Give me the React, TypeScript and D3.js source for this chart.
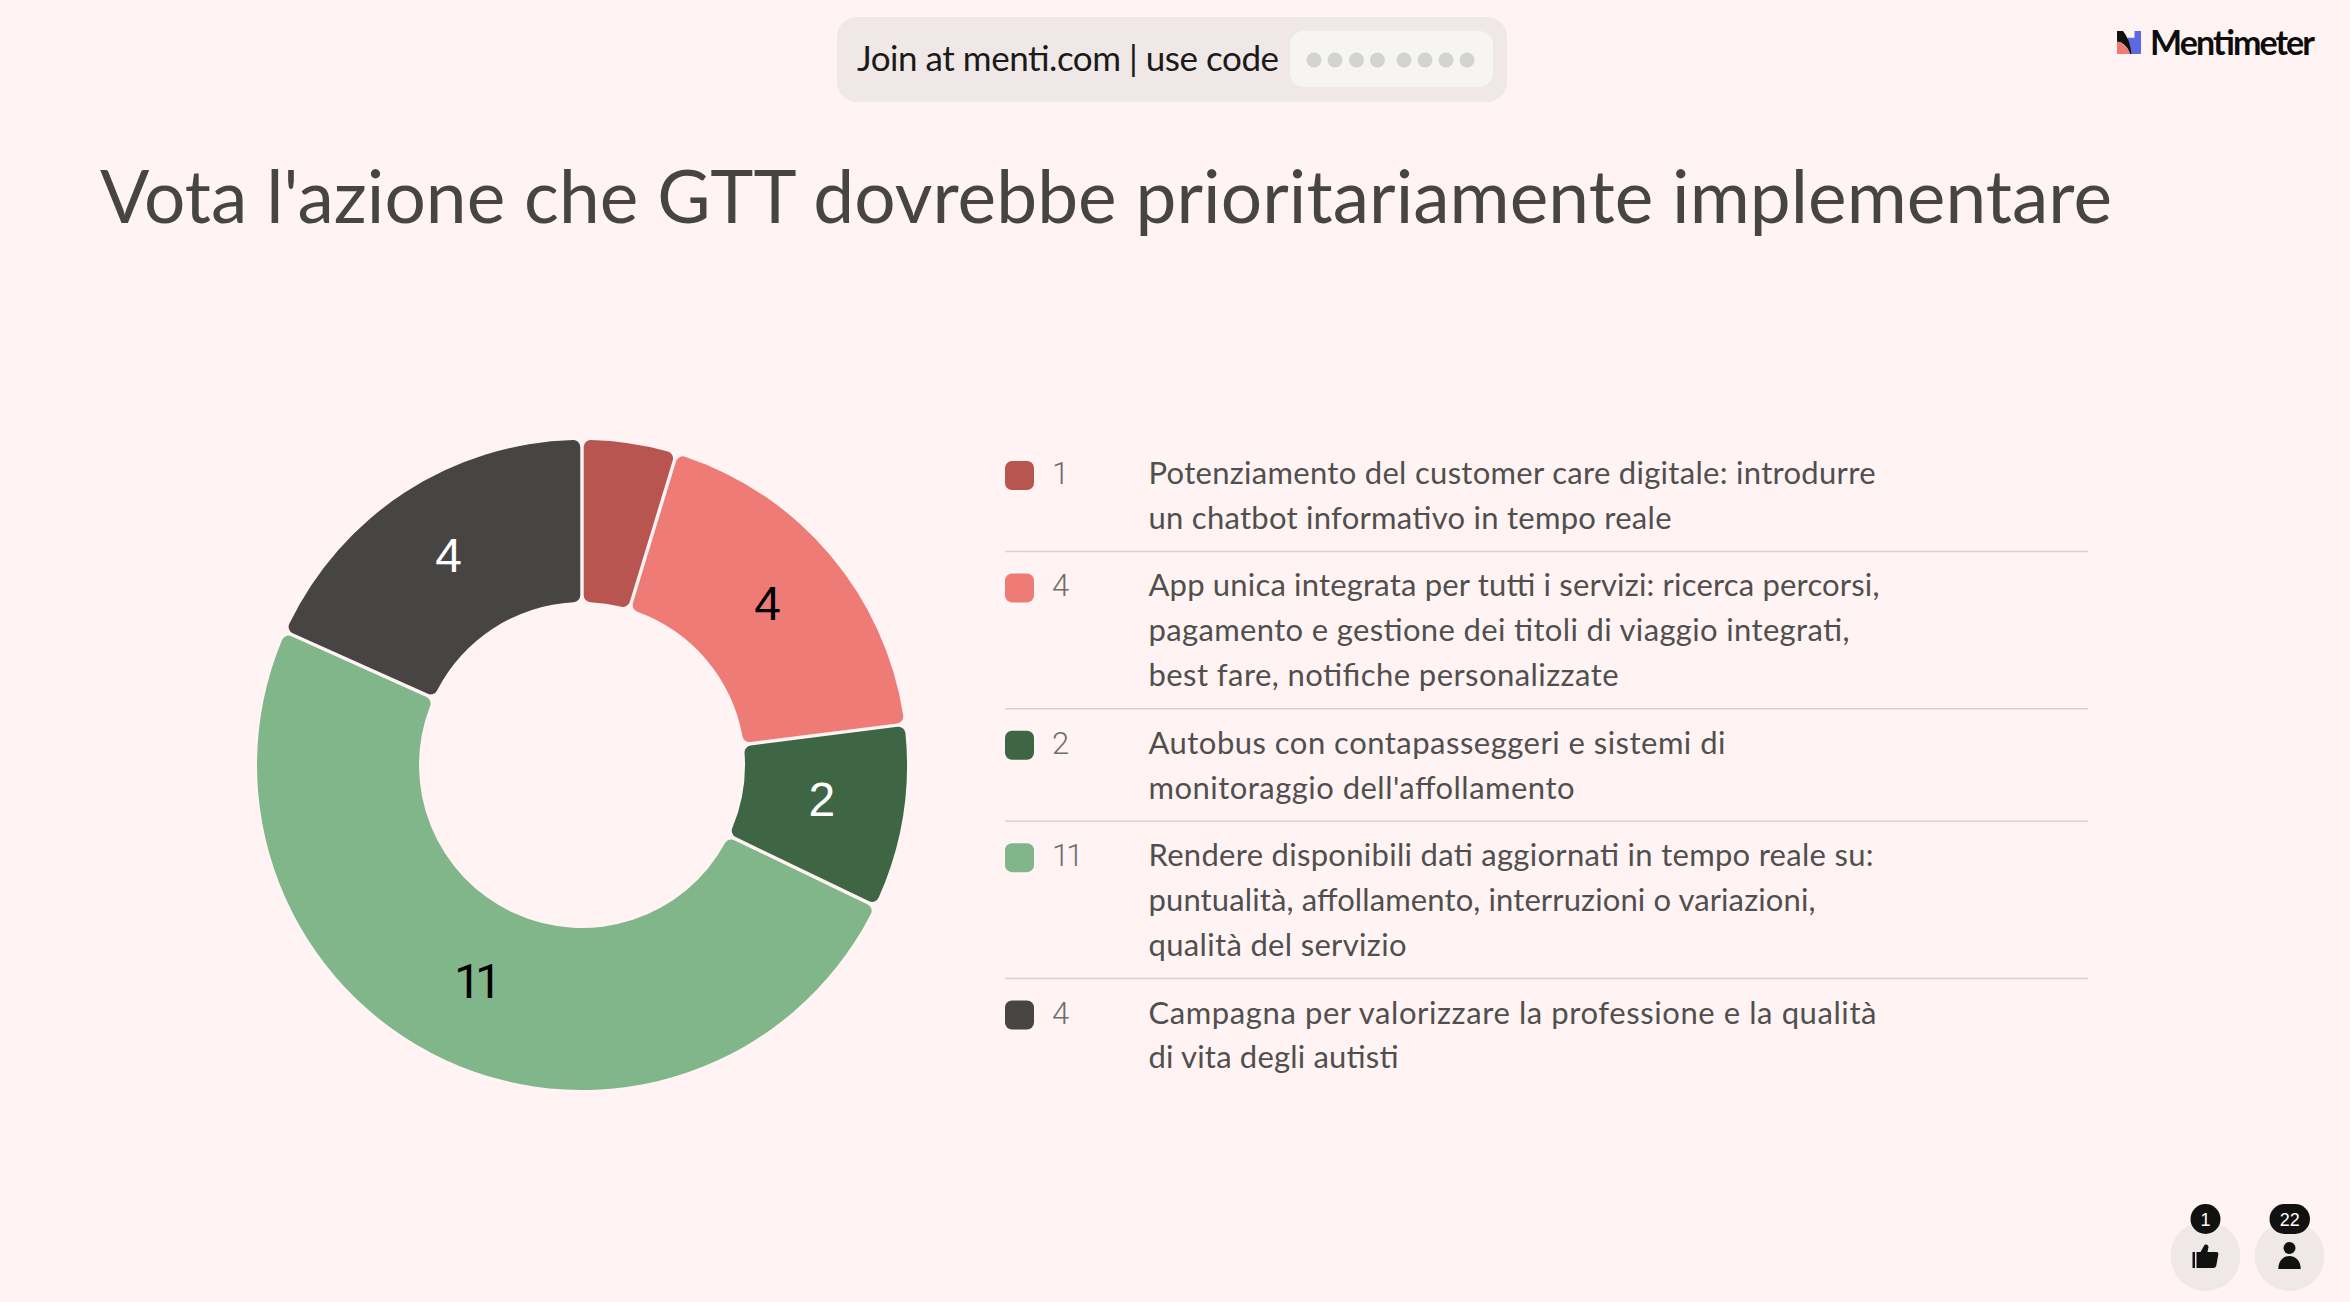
import React from "react";
import * as d3 from "d3";

const W = 2350, H = 1302;
const titleText = "Vota l'azione che GTT dovrebbe prioritariamente implementare";
const votes = [1, 4, 2, 11, 4];
// Slice sweeps in degrees (they differ slightly from the pure vote share).
const sliceSweeps = [16.9, 65.9, 32.9, 178.5, 65.8];
const colors = ["#b95551", "#ee7b76", "#3f6644", "#80b689", "#474543"];
const labelColors = ["#000000", "#000000", "#ffffff", "#000000", "#ffffff"];
const optionLines = [
  ["Potenziamento del customer care digitale: introdurre", "un chatbot informativo in tempo reale"],
  ["App unica integrata per tutti i servizi: ricerca percorsi,", "pagamento e gestione dei titoli di viaggio integrati,", "best fare, notifiche personalizzate"],
  ["Autobus con contapasseggeri e sistemi di", "monitoraggio dell'affollamento"],
  ["Rendere disponibili dati aggiornati in tempo reale su:", "puntualità, affollamento, interruzioni o variazioni,", "qualità del servizio"],
  ["Campagna per valorizzare la professione e la qualità", "di vita degli autisti"],
];
const lineWidths = [[727, 523], [731, 701, 470], [577, 426], [725, 667, 258], [728, 250]];
const likes = "1";
const participants = "22";

const FONT = "Lato, 'Noto Sans', sans-serif";
const LABEL_FONT = "'Liberation Sans', Arial, sans-serif";
const LH = 44.95;
const ROW_PAD = 22.5;
const TOP = 484;

export default function App() {
  const cx = 582, cy = 765, R = 325, r = 163;
  const pie = d3.pie<number>().sort(null).startAngle(0).endAngle(2 * Math.PI)(sliceSweeps);
  const arc = d3.arc<d3.PieArcDatum<number>>()
    .innerRadius(r).outerRadius(R).cornerRadius(7).padAngle(0.0105).padRadius(R);
  let y = TOP;
  const rows = optionLines.map((lines, i) => {
    const row = { y, lines, i, divider: y + (lines.length - 1) * LH + 22.5 };
    y += lines.length * LH + ROW_PAD;
    return row;
  });
  const dotsX = [1314, 1335, 1356.5, 1377.5, 1404, 1425, 1446, 1467];
  return (
    <svg width={W} height={H} viewBox={`0 0 ${W} ${H}`}
      style={{ position: "fixed", left: 0, top: 0, display: "block" }}>
      <rect width={W} height={H} fill="#fff4f3" />
      <rect x={837} y={17} width={670} height={85} rx={20} fill="#f0e8e6" />
      <text x={857} y={71} fontFamily={FONT} fontSize={35} fill="#1b1a1a" textLength={422}>Join at menti.com | use code</text>
      <rect x={1290} y={31} width={203} height={56} rx={14} fill="#f6f5f4" />
      {dotsX.map((x) => <circle key={x} cx={x} cy={60} r={7.5} fill="#d3d3d1" />)}

      <path d="M2134.5 31H2141V54H2131C2130 49 2128 45 2124 41.7H2127.8V37.7H2134.5Z" fill="#5b6ae0" />
      <path d="M2117 31H2123C2128 37 2131 46 2131.3 54H2130C2128 47 2123 42 2117 41.7Z" fill="#111" />
      <path d="M2117 41.7C2123 42 2128 47 2130 54H2117Z" fill="#ee7b76" />
      <text x={2150} y={54.5} fontFamily={FONT} fontSize={34} fontWeight={700} fill="#0d0d0d" textLength={165}>Mentimeter</text>

      <text x={100} y={222.5} fontFamily={FONT} fontSize={73} fill="#474543" textLength={2012}>{titleText}</text>

      <g transform={`translate(${cx},${cy})`}>
        {pie.map((d, i) => <path key={i} d={arc(d) as string} fill={colors[i]} />)}
        {pie.map((d, i) => {
          const v = votes[i];
          if (v < 2) return null;
          const [x, yy] = arc.centroid(d);
          const two = String(v).length > 1;
          return <text key={i} x={x - 1 - (two ? 3 : 0)} y={yy - 4.5} textAnchor="middle" dominantBaseline="central"
            fontFamily={two ? "Roboto, sans-serif" : LABEL_FONT} fontSize={48} letterSpacing={two ? -6 : 0} fill={labelColors[i]}>{v}</text>;
        })}
      </g>

      {rows.map((row) => {
        const two = votes[row.i] > 9;
        return (
        <g key={row.i}>
          <rect x={1005} y={row.y - 23} width={29} height={29} rx={7} fill={colors[row.i]} />
          <text x={1052} y={row.y} fontFamily="Roboto, sans-serif" fontWeight={300} fontSize={31} letterSpacing={two ? -3 : 0} fill="#6f6d6c">{votes[row.i]}</text>
          {row.lines.map((t, j) => (
            <text key={j} x={1148.5} y={row.y + j * LH} fontFamily={FONT} fontSize={31} fill="#514f4e"
              textLength={lineWidths[row.i][j]}>{t}</text>
          ))}
          {row.i < rows.length - 1 && <line x1={1005} x2={2088} y1={row.divider} y2={row.divider} stroke="#d8d2d0" strokeWidth={1.5} />}
        </g>
        );
      })}

      <circle cx={2205.5} cy={1256} r={35} fill="#f0e8e6" />
      <circle cx={2289.5} cy={1256} r={35} fill="#f0e8e6" />
      <circle cx={2205.5} cy={1219} r={15} fill="#111" />
      <rect x={2269.5} y={1204} width={40.5} height={30} rx={15} fill="#111" />
      <text x={2205.5} y={1225.5} textAnchor="middle" fontFamily={LABEL_FONT} fontSize={18} fill="#fff">{likes}</text>
      <text x={2289.7} y={1225.5} textAnchor="middle" fontFamily={LABEL_FONT} fontSize={18} fill="#fff">{participants}</text>
      <path d="M2192.5 1252h2.5v16h-2.5zM2196.5 1252h4l4-7c2-1 4 0 4 2l-1 5h9c1.5 0 2 1 1.8 2.5l-2 11c-.3 1.5-1.5 2.5-3 2.5H2196.5z" fill="#111" />
      <circle cx={2289.5} cy={1248} r={6} fill="#111" />
      <path d="M2278.3 1269c0-8 5-13 11.2-13s11.2 5 11.2 13z" fill="#111" />
    </svg>
  );
}
